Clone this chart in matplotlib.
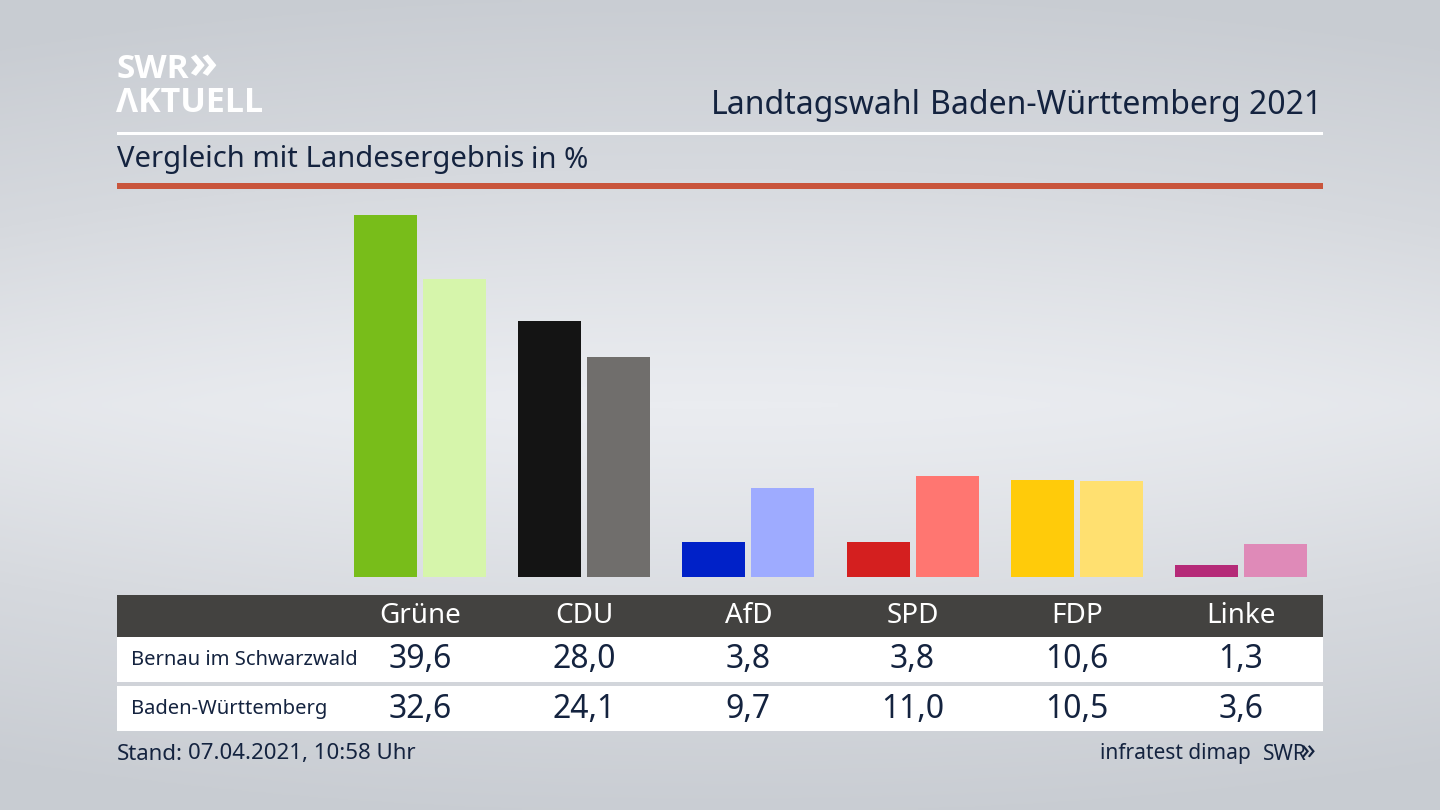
import numpy as np
import matplotlib
matplotlib.use("Agg")
import matplotlib.pyplot as plt
from matplotlib.patches import Rectangle
from matplotlib.colors import LinearSegmentedColormap

plt.rcParams['font.family'] = ['Noto Sans', 'DejaVu Sans']

parties = ["Grüne", "CDU", "AfD", "SPD", "FDP", "Linke"]
local_values = [39.6, 28.0, 3.8, 3.8, 10.6, 1.3]
state_values = [32.6, 24.1, 9.7, 11.0, 10.5, 3.6]
local_labels = ["39,6", "28,0", "3,8", "3,8", "10,6", "1,3"]
state_labels = ["32,6", "24,1", "9,7", "11,0", "10,5", "3,6"]
local_colors = ["#78bd1a", "#141414", "#0021c8", "#d41f1f", "#ffcb0a", "#b52a78"]
state_colors = ["#d6f5ab", "#706e6c", "#9eabff", "#ff7671", "#ffe070", "#df8ab8"]
row_names = ["Bernau im Schwarzwald", "Baden-Württemberg"]

navy = "#14233f"
W, H = 1440, 810

fig = plt.figure(figsize=(14.4, 8.1), dpi=100)

# frame axes in pixels, y pointing down
ax = fig.add_axes([0, 0, 1, 1])
ax.set_xlim(0, W)
ax.set_ylim(H, 0)
ax.axis("off")

# background: light band in the middle, darker to top, bottom and sides
yy, xx = np.mgrid[0:1:270j, 0:1:480j]
bg = np.abs(yy - 0.5) * 2
bg = bg ** 1.2 + 0.35 * np.abs(xx - 0.5) ** 2.2 * 2
cmap = LinearSegmentedColormap.from_list("bg", ["#eaecf0", "#d6d9de", "#c8ccd2"])
ax.imshow(bg, cmap=cmap, vmin=0, vmax=1.05, extent=[0, W, H, 0], aspect="auto", zorder=0)

# logo
ax.text(117, 69, "SWR", color="white", fontsize=24, fontweight="bold", family="Open Sans", va="center", ha="left")
ax.text(188, 66, "»", color="white", fontsize=34, fontweight="bold", family="Open Sans", va="center", ha="left")
ax.text(116, 103, "ΛKTUELL", color="white", fontsize=24.5, fontweight="bold", family="Open Sans", va="center", ha="left")

# header
t = ax.text(1322, 106, "Baden-Württemberg 2021", color=navy, fontsize=23, va="center", ha="right")
fig.canvas.draw()
left = t.get_window_extent().x0
ax.text(left - 9, 106, "Landtagswahl", color=navy, fontsize=23, fontweight="bold", va="center", ha="right")
ax.add_patch(Rectangle((117, 132), 1206, 3, color="white", lw=0))
ax.text(117, 160, "Vergleich mit Landesergebnis", color=navy, fontsize=21, va="center", ha="left")
ax.text(531, 160, "in %", color=navy, fontsize=21, va="center", ha="left")
ax.add_patch(Rectangle((117, 183), 1206, 6, color="#c9553c", lw=0))

# table
ax.add_patch(Rectangle((117, 595), 1206, 42, color="#434240", lw=0))
ax.add_patch(Rectangle((117, 637), 1206, 45, color="white", lw=0))
ax.add_patch(Rectangle((117, 686), 1206, 45, color="white", lw=0))

centers = [420 + 164.2 * i for i in range(len(parties))]
for cx, name, a, b in zip(centers, parties, local_labels, state_labels):
    ax.text(cx, 616, name, color="white", fontsize=20, va="center", ha="center")
    ax.text(cx, 660, a, color=navy, fontsize=23, va="center", ha="center")
    ax.text(cx, 709, b, color=navy, fontsize=23, va="center", ha="center")
ax.text(131, 660, row_names[0], color=navy, fontsize=14.5, va="center", ha="left")
ax.text(131, 709, row_names[1], color=navy, fontsize=14.5, va="center", ha="left")

# footer
s = ax.text(117, 754, "Stand:", color=navy, fontsize=16, fontweight="bold", va="center", ha="left")
fig.canvas.draw()
ax.text(s.get_window_extent().x1 + 5, 754, "07.04.2021, 10:58 Uhr", color=navy, fontsize=16, va="center", ha="left")
ax.text(1251, 754, "infratest dimap", color=navy, fontsize=15, va="center", ha="right")
ax.text(1263, 754, "SWR", color=navy, fontsize=15, fontweight="bold", va="center", ha="left")
ax.text(1301, 752, "»", color=navy, fontsize=21, fontweight="bold", va="center", ha="left")

# bars: data axes placed so that 39.6 reaches y=215 and 0 sits at y=577
step = 164.2
bar_ax = fig.add_axes([(420 - step / 2) / W, (H - 577) / H, step * 6 / W, (577 - 215) / H])
bar_ax.patch.set_alpha(0)
bar_ax.axis("off")
x = np.arange(len(parties))
bw = 63 / step
off = 34.5 / step
bar_ax.bar(x - off, local_values, bw, color=local_colors)
bar_ax.bar(x + off, state_values, bw, color=state_colors)
bar_ax.set_xlim(-0.5, 5.5)
bar_ax.set_ylim(0, 39.6)

fig.savefig("out.png", dpi=100)
